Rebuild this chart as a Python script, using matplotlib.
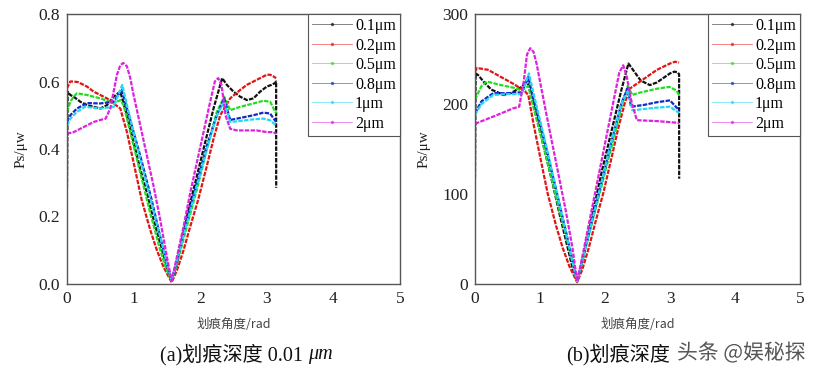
import matplotlib
matplotlib.use("Agg")
import matplotlib.pyplot as plt
from matplotlib.lines import Line2D
import matplotlib.patheffects as pe

labels = ["0.1μm", "0.2μm", "0.5μm", "0.8μm", "1μm", "2μm"]
colors = ["#111111", "#e01515", "#22dd22", "#1428c8", "#22d8f0", "#dd22dd"]

# ---------- panel (a): scratch depth 0.01 um ----------
a_x_01 = [0, 0.01, 0.05, 0.1, 0.2, 0.3, 0.4, 0.5, 0.6, 0.7, 0.8, 0.9, 1.0, 1.1, 1.2, 1.3, 1.4, 1.5, 1.571,
          1.65, 1.8, 1.9, 2.0, 2.1, 2.2, 2.33, 2.4, 2.5, 2.6, 2.7, 2.8, 2.9, 3.0, 3.07, 3.12, 3.14, 3.141]
a_y_01 = [0.285, 0.57, 0.56, 0.555, 0.54, 0.53, 0.525, 0.52, 0.53, 0.555, 0.57, 0.50, 0.42, 0.34, 0.27, 0.19, 0.12,
          0.05, 0.01, 0.06, 0.2, 0.28, 0.36, 0.44, 0.52, 0.61, 0.59, 0.57, 0.555, 0.545, 0.55, 0.57, 0.585, 0.59,
          0.595, 0.6, 0.285]
a_x_02 = [0, 0.05, 0.1, 0.17, 0.3, 0.4, 0.5, 0.6, 0.7, 0.8, 0.9, 1.0, 1.12, 1.25, 1.35, 1.45, 1.571,
          1.65, 1.75, 1.85, 1.97, 2.1, 2.2, 2.3, 2.45, 2.6, 2.7, 2.8, 2.9, 3.0, 3.05, 3.1, 3.14]
a_y_02 = [0.58, 0.60, 0.60, 0.598, 0.585, 0.57, 0.56, 0.55, 0.535, 0.52, 0.45, 0.36, 0.25, 0.16, 0.10, 0.05, 0.005,
          0.04, 0.10, 0.17, 0.25, 0.35, 0.43, 0.50, 0.55, 0.575, 0.59, 0.60, 0.61, 0.62, 0.62, 0.615, 0.61]
a_x_05 = [0, 0.05, 0.1, 0.15, 0.3, 0.5, 0.7, 0.8, 0.85, 0.95, 1.1, 1.25, 1.4, 1.5, 1.571,
          1.65, 1.8, 1.95, 2.1, 2.25, 2.36, 2.45, 2.6, 2.8, 2.95, 3.05, 3.14]
a_y_05 = [0.51, 0.54, 0.555, 0.565, 0.56, 0.55, 0.535, 0.545, 0.53, 0.45, 0.33, 0.21, 0.1, 0.04, 0.01,
          0.06, 0.17, 0.28, 0.40, 0.51, 0.555, 0.515, 0.525, 0.535, 0.543, 0.54, 0.505]
a_x_08 = [0, 0.05, 0.15, 0.3, 0.5, 0.7, 0.82, 0.9, 1.0, 1.1, 1.27, 1.4, 1.5, 1.571,
          1.65, 1.8, 1.95, 2.1, 2.25, 2.36, 2.45, 2.6, 2.8, 2.95, 3.05, 3.14]
a_y_08 = [0.48, 0.50, 0.52, 0.536, 0.535, 0.54, 0.575, 0.52, 0.45, 0.38, 0.25, 0.14, 0.06, 0.01,
          0.07, 0.19, 0.30, 0.41, 0.50, 0.55, 0.486, 0.492, 0.50, 0.508, 0.505, 0.48]
a_x_1 = [0, 0.05, 0.15, 0.27, 0.5, 0.7, 0.83, 0.9, 1.0, 1.1, 1.27, 1.4, 1.5, 1.571,
         1.65, 1.8, 1.95, 2.1, 2.25, 2.36, 2.45, 2.6, 2.8, 2.95, 3.05, 3.14]
a_y_1 = [0.47, 0.49, 0.51, 0.525, 0.52, 0.525, 0.59, 0.53, 0.45, 0.37, 0.24, 0.14, 0.06, 0.01,
         0.07, 0.18, 0.29, 0.40, 0.50, 0.54, 0.48, 0.483, 0.488, 0.49, 0.485, 0.47]
a_x_2 = [0, 0.1, 0.2, 0.3, 0.4, 0.5, 0.58, 0.65, 0.7, 0.75, 0.8, 0.845, 0.9, 0.95, 1.0, 1.1, 1.2, 1.3, 1.4, 1.5,
         1.571, 1.65, 1.75, 1.85, 1.95, 2.05, 2.15, 2.22, 2.27, 2.32, 2.38, 2.45, 2.55, 2.7, 2.85, 3.0, 3.1, 3.14]
a_y_2 = [0.445, 0.45, 0.46, 0.47, 0.48, 0.486, 0.49, 0.52, 0.57, 0.62, 0.648, 0.655, 0.645, 0.61, 0.56, 0.47, 0.38,
         0.29, 0.19, 0.08, 0.01, 0.08, 0.17, 0.27, 0.36, 0.45, 0.54, 0.6, 0.61, 0.59, 0.5, 0.46, 0.455, 0.455,
         0.455, 0.45, 0.45, 0.445]

# ---------- panel (b) ----------
b_x_01 = [0, 0.01, 0.05, 0.13, 0.25, 0.38, 0.43, 0.55, 0.72, 0.8, 0.9, 1.0, 1.1, 1.2, 1.3, 1.4, 1.5, 1.571,
          1.65, 1.8, 1.95, 2.1, 2.25, 2.36, 2.45, 2.55, 2.69, 2.8, 2.9, 3.0, 3.07, 3.12, 3.14, 3.141]
b_y_01 = [118, 234, 232, 225, 216, 212, 210, 212, 219, 227, 200, 170, 140, 110, 78, 48, 18, 3,
          25, 75, 125, 170, 215, 245, 236, 226, 221, 224, 229, 234, 236, 235, 233, 117]
b_x_02 = [0, 0.03, 0.2, 0.4, 0.6, 0.77, 0.82, 0.9, 1.0, 1.12, 1.25, 1.35, 1.45, 1.571,
          1.65, 1.75, 1.85, 1.97, 2.1, 2.2, 2.3, 2.38, 2.6, 2.8, 3.0, 3.08, 3.14]
b_y_02 = [236, 240, 238, 230, 222, 214, 210, 178, 142, 100, 64, 40, 20, 2,
          16, 40, 68, 100, 140, 172, 200, 217, 228, 238, 245, 247, 246]
b_x_05 = [0, 0.1, 0.18, 0.4, 0.6, 0.72, 0.82, 0.9, 1.0, 1.1, 1.25, 1.4, 1.5, 1.571,
          1.65, 1.8, 1.95, 2.1, 2.25, 2.35, 2.42, 2.5, 2.8, 2.99, 3.1, 3.14]
b_y_05 = [205, 220, 225, 221, 218, 215, 220, 196, 168, 140, 96, 54, 24, 3,
          25, 68, 110, 152, 196, 220, 210, 212, 217, 219, 215, 210]
b_x_08 = [0, 0.1, 0.28, 0.5, 0.72, 0.82, 0.9, 1.0, 1.1, 1.27, 1.4, 1.5, 1.571,
          1.65, 1.8, 1.95, 2.1, 2.25, 2.35, 2.4, 2.6, 2.8, 3.0, 3.14]
b_y_08 = [190, 203, 212, 212, 213, 230, 205, 178, 150, 98, 58, 26, 3,
          26, 70, 114, 158, 200, 218, 197, 199, 202, 204, 193]
b_x_1 = [0, 0.1, 0.28, 0.5, 0.72, 0.83, 0.9, 1.0, 1.1, 1.27, 1.4, 1.5, 1.571,
         1.65, 1.8, 1.95, 2.1, 2.25, 2.36, 2.42, 2.8, 3.0, 3.14]
b_y_1 = [188, 200, 210, 211, 211, 234, 212, 182, 152, 98, 57, 25, 3,
         26, 70, 114, 158, 200, 215, 193, 196, 197, 190]
b_x_2 = [0, 0.28, 0.45, 0.58, 0.68, 0.75, 0.8, 0.85, 0.9, 0.95, 1.0, 1.1, 1.2, 1.3, 1.4, 1.5, 1.571,
         1.65, 1.75, 1.85, 1.95, 2.05, 2.15, 2.22, 2.28, 2.33, 2.4, 2.49, 2.8, 3.14]
b_y_2 = [178, 186, 191, 195, 197, 225, 255, 262, 258, 244, 225, 188, 152, 116, 80, 40, 3,
         30, 66, 102, 138, 174, 210, 235, 243, 232, 205, 182, 181, 179]

panel_a = [(a_x_01, a_y_01), (a_x_02, a_y_02), (a_x_05, a_y_05), (a_x_08, a_y_08), (a_x_1, a_y_1), (a_x_2, a_y_2)]
panel_b = [(b_x_01, b_y_01), (b_x_02, b_y_02), (b_x_05, b_y_05), (b_x_08, b_y_08), (b_x_1, b_y_1), (b_x_2, b_y_2)]

x_ticks = [0, 1, 2, 3, 4, 5]
a_y_ticks = [0.0, 0.2, 0.4, 0.6, 0.8]
a_y_ticklabels = ["0.0", "0.2", "0.4", "0.6", "0.8"]
b_y_ticks = [0, 100, 200, 300]
b_y_ticklabels = ["0", "100", "200", "300"]

serif = ['Liberation Serif', 'Noto Sans CJK SC']
cjk = ['Noto Sans CJK SC', 'Liberation Sans']

fig = plt.figure(figsize=(8.17, 3.76), dpi=100)
axA = fig.add_axes([67/817, 1-284/376, (400-67)/817, (284-14)/376])
axB = fig.add_axes([475/817, 1-284/376, (800-475)/817, (284-14)/376])

def style(ax, data, yticks, yticklabels, ylim):
    for (xs, ys), c in zip(data, colors):
        ax.plot(xs, ys, color=c, lw=1.6, linestyle=(0, (2.0, 0.6)), zorder=2)
    ax.set_xlim(0, 5)
    ax.set_ylim(*ylim)
    ax.set_xticks(x_ticks)
    ax.set_xticklabels([str(t) for t in x_ticks], family=serif, fontsize=12.5)
    ax.set_yticks(yticks)
    ax.set_yticklabels(yticklabels, family=serif, fontsize=12.5)
    ax.tick_params(length=0, pad=5, colors='#222222')
    for s in ax.spines.values():
        s.set_color('#555555')
        s.set_linewidth(1.0)
    ax.set_ylabel("Ps/μw", family=serif, fontsize=11, color='#222222', labelpad=8)
    ax.set_xlabel("划痕角度/rad", family=cjk, fontsize=9, color='#444444', labelpad=8)
    handles = [Line2D([], [], color=c, lw=0.6, alpha=0.6, marker='.', markersize=3,
                      markerfacecolor=c, markeredgecolor=c) for c in colors]
    leg = ax.legend(handles, labels, loc='upper right', borderaxespad=0, fancybox=False,
                    prop={'family': serif, 'size': 11.5}, handlelength=2.5, handletextpad=0.2,
                    labelspacing=0.22, borderpad=0.25, framealpha=1)
    leg.get_frame().set_edgecolor('#555555')
    leg.get_frame().set_linewidth(0.8)

style(axA, panel_a, a_y_ticks, a_y_ticklabels, (0, 0.8))
style(axB, panel_b, b_y_ticks, b_y_ticklabels, (0, 300))

capA = fig.text(160/817, 1-355/376, "(a)划痕深度 0.01 ", family=serif, fontsize=14.5,
                ha='left', va='center', color='#111111')
axA.annotate("μm", xy=(1, 0.5), xycoords=capA, va='center', ha='left',
             family='Liberation Serif', style='italic', fontsize=14.5, color='#111111',
             annotation_clip=False)
fig.text(566/817, 1-355/376, "(b)划痕深度", family=serif, fontsize=14.5,
         ha='left', va='center', color='#111111')
fig.text(677/817, 1-353/376, "头条 @娱秘探", family=cjk, fontsize=15, ha='left', va='center',
         color='#555555', path_effects=[pe.withStroke(linewidth=2.5, foreground='white')])

fig.savefig("out.png", dpi=100)
